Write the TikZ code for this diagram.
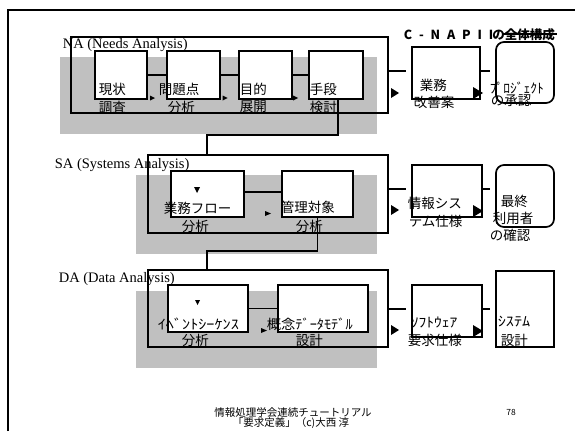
\documentclass[tikz,border=0pt]{standalone}
\usepackage{fontspec}
\setmainfont{Liberation Serif}
\newfontfamily\jp{Noto Sans CJK JP}
\definecolor{panel}{RGB}{192,192,192}
\begin{document}
\begin{tikzpicture}[x=1pt,y=-1pt,line width=1.7pt,
  frame/.style={draw,inner sep=0pt},
  box/.style={draw,fill=white,inner sep=0pt},
  rbox/.style={draw,fill=white,inner sep=0pt,rounded corners=8pt},
  jtext/.style={font=\jp\fontsize{13.5}{14}\selectfont,inner sep=0pt,anchor=west},
  etext/.style={font=\fontsize{14.5}{16}\selectfont,inner sep=0pt,anchor=west},
  foot/.style={font=\jp\fontsize{10.5}{12}\selectfont,inner sep=0pt}]
\useasboundingbox (0,0) rectangle (575,431);
% outer frame
\draw (8,431) -- (8,10) -- (575,10);
% grey panels
\fill[panel] (60,57) rectangle (377,134);
\fill[panel] (136,175) rectangle (377,254);
\fill[panel] (136,291) rectangle (377,368);
% stage frames
\node[frame,minimum width=317,minimum height=76] (NA) at (229.5,75) {};
\node[frame,minimum width=240,minimum height=78] (SA) at (268,194) {};
\node[frame,minimum width=240,minimum height=77] (DA) at (268,308.5) {};
% NA boxes
\node[box,minimum width=52,minimum height=48] (n1) at (121,75) {};
\node[box,minimum width=53,minimum height=48] (n2) at (193.5,75) {};
\node[box,minimum width=53,minimum height=48] (n3) at (265.5,75) {};
\node[box,minimum width=54,minimum height=48] (n4) at (336.3,75) {};
\draw (n1) -- (n2);
\draw (n2) -- (n3);
\draw (n3) -- (n4);
\fill (150,95.5) -- (155,98) -- (150,100.5) -- cycle;
\fill (222.5,95.5) -- (227.5,98) -- (222.5,100.5) -- cycle;
\fill (293,95.5) -- (298,98) -- (293,100.5) -- cycle;
% SA boxes
\node[box,minimum width=73,minimum height=46] (s1) at (207.5,194) {};
\node[box,minimum width=71,minimum height=46] (s2) at (317.5,194) {};
\draw ([yshift=2pt]s1.east) -- ([yshift=2pt]s2.west);
\fill (194,187) -- (200,187) -- (197,193) -- cycle;
\fill (265,211) -- (271,213.5) -- (265,216) -- cycle;
% DA boxes
\node[box,minimum width=80,minimum height=47] (d1) at (208,308.5) {};
\node[box,minimum width=90,minimum height=47] (d2) at (323,308.5) {};
\draw (d1) -- (d2);
\fill (195,300) -- (200,300) -- (197.5,305) -- cycle;
\fill (261,328) -- (267,330.5) -- (261,333) -- cycle;
% connectors between stages
\coordinate (j1) at (207,135);
\draw ([xshift=1.5pt]n4.south) |- (j1) -- (j1 |- SA.north);
\coordinate (j2) at (207,251);
\draw (s2.south) |- (j2) -- (j2 |- DA.north);
% right column
\node[box,minimum width=68,minimum height=52] (r1) at (446,73) {};
\node[rbox,minimum width=58,minimum height=61] (p1) at (525,72.5) {};
\coordinate (e1) at (406,71);
\draw (NA.east |- e1) -- (e1);
\coordinate (f1) at (490,71);
\draw (r1.east |- f1) -- (f1);
\fill (391,88) -- (399,93) -- (391,98) -- cycle;
\fill (473,87) -- (483,93) -- (473,99) -- cycle;

\node[box,minimum width=70,minimum height=52] (r2) at (447,191) {};
\node[rbox,minimum width=58,minimum height=62] (p2) at (525,196) {};
\coordinate (e2) at (406,189);
\draw (SA.east |- e2) -- (e2);
\coordinate (f2) at (490,189);
\draw (r2.east |- f2) -- (f2);
\fill (391,205) -- (399,210) -- (391,215) -- cycle;
\fill (473,205) -- (483,211) -- (473,217) -- cycle;

\node[box,minimum width=70,minimum height=52] (r3) at (447,311) {};
\node[box,minimum width=58,minimum height=76] (p3) at (525,309) {};
\coordinate (e3) at (406,309);
\draw (DA.east |- e3) -- (e3);
\coordinate (f3) at (490,309);
\draw (r3.east |- f3) -- (f3);
\fill (391,325) -- (399,330) -- (391,335) -- cycle;
\fill (473,325) -- (483,331) -- (473,337) -- cycle;
% stage labels
\node[etext] (lNA) at (62,45) {NA (Needs Analysis)};
\node[etext] (lSA) at (54,165) {SA (Systems Analysis)};
\node[etext] (lDA) at (58,279) {DA (Data Analysis)};
% title
\node[font=\jp\bfseries\fontsize{12.5}{14}\selectfont,inner sep=0pt,anchor=west] (title) at (403,35) {{\addfontfeature{LetterSpace=32}C - N A P I I}\kern-1pt の全体構成};
\draw[line width=1.2pt] (502,34) -- (557,34);
% texts NA
\node[jtext] (t1a) at (98,89) {現状};
\node[jtext] (t1b) at (98,107) {調査};
\node[jtext] (t2a) at (158,89) {問題点};
\node[jtext] (t2b) at (167,107) {分析};
\node[jtext] (t3a) at (239,89) {目的};
\node[jtext] (t3b) at (239,107) {展開};
\node[jtext] (t4a) at (309,89) {手段};
\node[jtext] (t4b) at (309,107) {検討};
\node[jtext] (tr1a) at (419,85) {業務};
\node[jtext] (tr1b) at (413,102) {改善案};
\node[jtext] (tp1a) at (489,88) {ﾌﾟﾛｼﾞｪｸﾄ};
\node[jtext] (tp1b) at (490,101) {の承認};
% texts SA
\node[jtext] (u1a) at (163,208) {業務フロー};
\node[jtext] (u1b) at (181,226) {分析};
\node[jtext] (u2a) at (280,207) {管理対象};
\node[jtext] (u2b) at (295,226) {分析};
\node[jtext] (ur2a) at (407,203) {情報シス};
\node[jtext] (ur2b) at (408,221) {テム仕様};
\node[jtext] (up2a) at (500,201) {最終};
\node[jtext] (up2b) at (492,218) {利用者};
\node[jtext] (up2c) at (489,235) {の確認};
% texts DA
\node[jtext] (v1a) at (157,324) {\scalebox{1.2}[1]{ｲﾍﾞﾝﾄｼｰｹﾝｽ}};
\node[jtext] (v1b) at (181,340) {分析};
\node[jtext] (v2a) at (266,324) {\scalebox{1.06}[1]{概念ﾃﾞｰﾀﾓﾃﾞﾙ}};
\node[jtext] (v2b) at (295,340) {設計};
\node[jtext] (vr3a) at (410,322) {\scalebox{1.15}[1]{ｿﾌﾄｳｪｱ}};
\node[jtext] (vr3b) at (407,340) {要求仕様};
\node[jtext] (vp3a) at (497,322) {\scalebox{1.2}[1]{ｼｽﾃﾑ}};
\node[jtext] (vp3b) at (500,340) {設計};
% footer
\node[foot] (f1t) at (293,412) {情報処理学会連続チュートリアル};
\node[foot] (f2t) at (291,423) {「要求定義」（c)大西 淳};
\node[font=\jp\fontsize{8.5}{10}\selectfont,inner sep=0pt] (pg) at (511,412) {78};
\end{tikzpicture}
\end{document}
